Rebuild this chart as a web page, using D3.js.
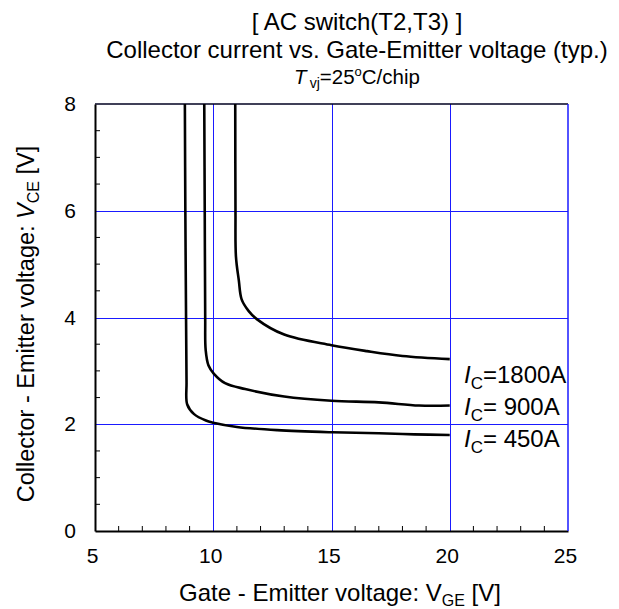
<!DOCTYPE html>
<html><head><meta charset="utf-8">
<script src="https://cdn.jsdelivr.net/npm/d3@7"></script>
<style>body{margin:0;background:#fff}svg{display:block}text{font-family:"Liberation Sans",Arial,sans-serif;fill:#000}</style>
</head><body><svg id="c" width="619" height="609"></svg>
<script>
const xTicks = [5, 10, 15, 20, 25];
const yTicks = [0, 2, 4, 6, 8];
const curve450 = [[8.8,8],[8.82,6],[8.85,4],[8.87,2.8],[8.9,2.37],[9.19,2.19],[9.69,2.07],[10,2.03],[11,1.95],[12.7,1.89],[15,1.85],[17,1.83],[18.5,1.81],[20,1.8]];
const curve900 = [[9.62,8],[9.64,6],[9.66,4],[9.68,3.39],[9.8,3.1],[10.02,2.95],[10.5,2.77],[11.35,2.66],[13,2.52],[15,2.44],[17,2.41],[18.7,2.35],[20,2.35]];
const curve1800 = [[10.93,8],[10.94,6],[10.96,5.14],[11.08,4.7],[11.2,4.34],[11.5,4.12],[11.84,3.97],[13,3.68],[15,3.48],[16.5,3.37],[18,3.28],[20,3.22]];
const seriesLabels = ["=1800A", "= 900A", "= 450A"];

const svg = d3.select("#c");
const L = 95, R = 568, T = 104, B = 531;
const x = d3.scaleLinear().domain([5,25]).range([L,R]);
const y = d3.scaleLinear().domain([0,8]).range([B,T]);
const FONT = "Liberation Sans, Arial, sans-serif";

// grid
const g = svg.append("g");
[10,15,20].forEach(v=>g.append("line").attr("x1",Math.round(x(v))+0.5).attr("x2",Math.round(x(v))+0.5).attr("y1",T).attr("y2",B).attr("stroke","#1a1aff").attr("stroke-width",1));
[2,4,6].forEach(v=>g.append("line").attr("y1",Math.round(y(v))+0.5).attr("y2",Math.round(y(v))+0.5).attr("x1",L).attr("x2",R).attr("stroke","#1a1aff").attr("stroke-width",1));

// minor ticks
d3.range(6,25).filter(v=>v%5!==0).forEach(v=>g.append("line").attr("x1",x(v)).attr("x2",x(v)).attr("y1",B).attr("y2",B-5).attr("stroke","#000").attr("stroke-width",1));
d3.range(0.5,8,0.5).filter(v=>v%2!==0).forEach(v=>g.append("line").attr("y1",y(v)).attr("y2",y(v)).attr("x1",L).attr("x2",L+5).attr("stroke","#000").attr("stroke-width",1));

// frame top
svg.append("line").attr("x1",L).attr("x2",R).attr("y1",T).attr("y2",T).attr("stroke","#000020").attr("stroke-width",1.5);

// axes with d3
const xAxis = d3.axisBottom(x).tickValues(xTicks).tickSize(0).tickPadding(17);
const ax = svg.append("g").attr("transform",`translate(0,${B})`).call(xAxis);
ax.select(".domain").attr("stroke","#000").attr("stroke-width",2);
ax.selectAll("text").attr("font-size",21).attr("font-family",FONT).attr("dx",-3);
const yAxis = d3.axisLeft(y).tickValues(yTicks).tickSize(0).tickPadding(19);
const ay = svg.append("g").attr("transform",`translate(${L},0)`).call(yAxis);
ay.select(".domain").attr("stroke","#000").attr("stroke-width",2);
ay.selectAll("text").attr("font-size",21).attr("font-family",FONT);

// curves
const line = d3.line().x(d=>x(d[0])).y(d=>y(d[1])).curve(d3.curveCatmullRom.alpha(0.5));
[curve450, curve900, curve1800].forEach(c=>svg.append("path").attr("d",line(c)).attr("fill","none").attr("stroke","#000").attr("stroke-width",2.6));

// labels
const labY = [383, 415, 447];
seriesLabels.forEach((s,i)=>{
  const t = svg.append("text").attr("x",464).attr("y",labY[i]).attr("font-size",24);
  t.append("tspan").attr("font-style","italic").text("I");
  t.append("tspan").attr("font-size",17).attr("dy",6).text("C");
  t.append("tspan").attr("dy",-6).text(s);
});
// right border over labels
svg.append("line").attr("x1",R).attr("x2",R).attr("y1",T).attr("y2",B).attr("stroke","#1a1aff").attr("stroke-width",1.5);

// titles
const CX = 357;
svg.append("text").attr("x",CX).attr("y",30).attr("text-anchor","middle").attr("font-size",24).text("[ AC switch(T2,T3) ]");
svg.append("text").attr("x",CX).attr("y",58).attr("text-anchor","middle").attr("font-size",24).text("Collector current vs. Gate-Emitter voltage (typ.)");
const st = svg.append("text").attr("x",CX).attr("y",84).attr("text-anchor","middle").attr("font-size",20.5);
st.append("tspan").attr("font-style","italic").text("T");
st.append("tspan").attr("font-size",14).attr("dx",3).attr("dy",4).text("vj");
st.append("tspan").attr("dy",-4).text("=25");
st.append("tspan").attr("font-size",13).attr("dy",-8).text("o");
st.append("tspan").attr("dy",8).text("C/chip");

const xt = svg.append("text").attr("x",340).attr("y",601).attr("text-anchor","middle").attr("font-size",24);
xt.append("tspan").text("Gate - Emitter voltage: V");
xt.append("tspan").attr("font-size",16).attr("dy",5).text("GE");
xt.append("tspan").attr("dy",-5).text(" [V]");

const yt = svg.append("text").attr("transform","translate(34,324) rotate(-90)").attr("text-anchor","middle").attr("font-size",23.5);
yt.append("tspan").text("Collector - Emitter voltage: ");
yt.append("tspan").attr("font-style","italic").text("V");
yt.append("tspan").attr("font-size",16).attr("dy",5).text("CE");
yt.append("tspan").attr("dy",-5).text(" [V]");
</script></body></html>
